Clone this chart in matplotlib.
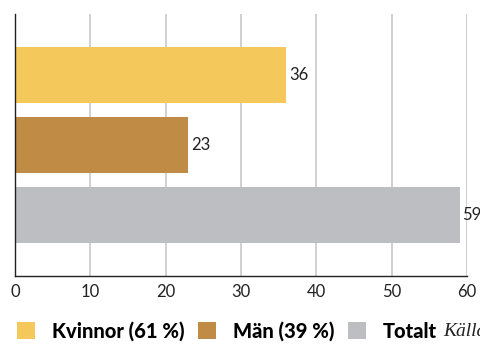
import matplotlib
matplotlib.use("Agg")
import matplotlib.pyplot as plt
from matplotlib.patches import Patch

plt.rcParams['font.family'] = ['Lato', 'DejaVu Sans']

groups = ["Kvinnor (61 %)", "Män (39 %)", "Totalt"]
values = [36, 23, 59]
colors = ["#F5C85C", "#C08B45", "#BDBEC1"]
xticks = [0, 10, 20, 30, 40, 50, 60]
source = "Källa: SCB"

W, H = 481, 345
fig = plt.figure(figsize=(W / 100, H / 100), dpi=100)
ax = fig.add_axes([0.031, 0.2, 0.94, 0.7594])

pos = list(range(len(values)))
bars = ax.barh(pos, values, height=0.8, color=colors, zorder=2)
for b, v in zip(bars, values):
    ax.annotate(str(v), (b.get_width(), b.get_y() + b.get_height() / 2),
                xytext=(2, 0), textcoords="offset points",
                va="center", ha="left", fontsize=12, color="#222222")

ax.set_xlim(0, 60)
ax.set_ylim(2.871, -0.871)
ax.set_xticks(xticks)
ax.set_yticks([])
ax.xaxis.grid(True, color="#C8C8C8", linewidth=1.2, zorder=0)
ax.tick_params(axis="x", length=0, pad=6, labelsize=12, labelcolor="#222222")
for s in ["top", "right"]:
    ax.spines[s].set_visible(False)
for s in ["left", "bottom"]:
    ax.spines[s].set_color("#222222")
    ax.spines[s].set_linewidth(1.0)

# legend row under the axis
handles = [Patch(facecolor=c, edgecolor="none") for c in colors]
fig.legend(handles, groups, loc="center left", bbox_to_anchor=(17 / W, 14 / H),
           ncol=3, frameon=False, borderpad=0, borderaxespad=0,
           handlelength=0.9, handleheight=0.95,
           handletextpad=0.85, columnspacing=0.65,
           prop={"weight": "black", "size": 14.5})
fig.text(443 / W, 14 / H, source, fontsize=14, style="italic", va="center",
         family=["Liberation Serif"], color="#222222")

fig.savefig("out.png", dpi=100)
